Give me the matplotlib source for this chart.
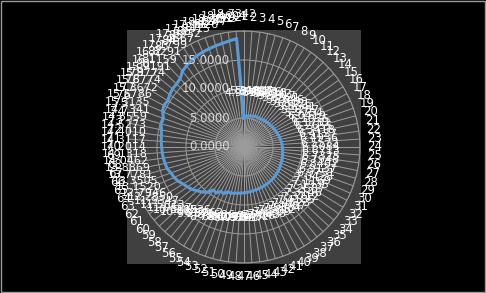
import numpy as np
import matplotlib
matplotlib.use("Agg")
import matplotlib.pyplot as plt
from matplotlib.patches import Rectangle

categories = [str(i) for i in range(1, 93)]
values = [
    4.9612, 5.3184, 5.4027, 5.4573, 5.5236, 5.5918, 5.6342, 5.5817, 5.6521, 5.7046,
    5.7693, 5.8125, 5.8641, 5.9287, 5.9754, 6.0419, 6.1036, 6.1782, 6.2655, 6.3418,
    6.4127, 6.4936, 6.5572, 6.6084, 6.6713, 6.7325, 6.7948, 6.8462, 6.9137, 6.9751,
    7.0428, 7.1169, 7.1935, 7.2587, 7.3146, 7.3712, 7.4185, 7.4523, 7.4967, 7.5384,
    7.5812, 7.6209, 7.6658, 7.7043, 7.7716, 7.8452, 7.8937, 7.9761, 8.0524, 8.1039,
    8.3127, 8.1586, 8.7843, 8.5962, 9.2871, 9.0536, 10.0842, 10.6115, 11.0527, 11.5613,
    11.9347, 12.2850, 12.7946, 13.1520, 13.3505, 13.7781, 13.8869, 14.0462, 14.1318, 14.2014,
    14.3117, 14.4010, 14.5273, 14.8559, 14.7341, 15.3135, 15.5786, 15.3672, 15.6774, 15.8774,
    15.9191, 16.1159, 16.8291, 17.1799, 17.4667, 17.6932, 17.8415, 17.9826, 18.1247, 18.2583,
    18.4604, 18.7342,
]
axis_ticks = [0, 5, 10, 15, 20]
axis_labels = ["0.0000", "5.0000", "10.0000", "15.0000", ""]

line_color = "#5B9BD5"
grid_color = "#9c9c9c"

fig = plt.figure(figsize=(4.86, 2.93), dpi=100, facecolor="black")
# plot area background
bg = fig.add_axes([127 / 486, 29 / 293, 234 / 486, 234 / 293])
bg.set_facecolor("#404040")
bg.set_xticks([])
bg.set_yticks([])
for s in bg.spines.values():
    s.set_visible(False)
# outer frame
fig.patches.append(Rectangle((0.002, 0.003), 0.996, 0.994, transform=fig.transFigure,
                             facecolor="none", edgecolor="#9a9a9a", lw=1))

ax = fig.add_axes([128 / 486, 30 / 293, 232 / 486, 232 / 293], projection="polar")
ax.set_facecolor("none")
ax.set_theta_zero_location("N")
ax.set_theta_direction(-1)

n = len(categories)
angles = np.linspace(0, 2 * np.pi, n, endpoint=False)

ax.set_ylim(0, 20)
ax.set_xticks(angles)
ax.set_xticklabels([])
ax.set_yticks(axis_ticks[1:])
ax.set_yticklabels([])
ax.grid(True, color=grid_color, lw=0.7)
ax.spines["polar"].set_color(grid_color)
ax.spines["polar"].set_linewidth(0.7)
ax.tick_params(length=0)

ax.plot(np.append(angles, angles[0]), values + values[:1], color=line_color,
        lw=2.2, zorder=3)

for t, lab in zip(axis_ticks, axis_labels):
    if lab:
        ax.annotate(lab, (0, t), xytext=(-14, 0), textcoords="offset pixels",
                    ha="right", va="center", color="#d9d9d9", fontsize=8.5,
                    annotation_clip=False, zorder=4)

for a, v in zip(angles, values):
    ax.annotate(f"{v:.4f}", (a, v),
                xytext=(38 * np.sin(a), 25 * np.cos(a)), textcoords="offset pixels",
                ha="center", va="center", color="white", fontsize=8,
                annotation_clip=False, zorder=5)

for a, lab in zip(angles, categories):
    ax.annotate(lab, (a, 20),
                xytext=(15 * np.sin(a), 14 * np.cos(a)), textcoords="offset pixels",
                ha="center", va="center", color="white", fontsize=8.5,
                annotation_clip=False, zorder=5)

fig.savefig("out.png", dpi=100, facecolor="black")
